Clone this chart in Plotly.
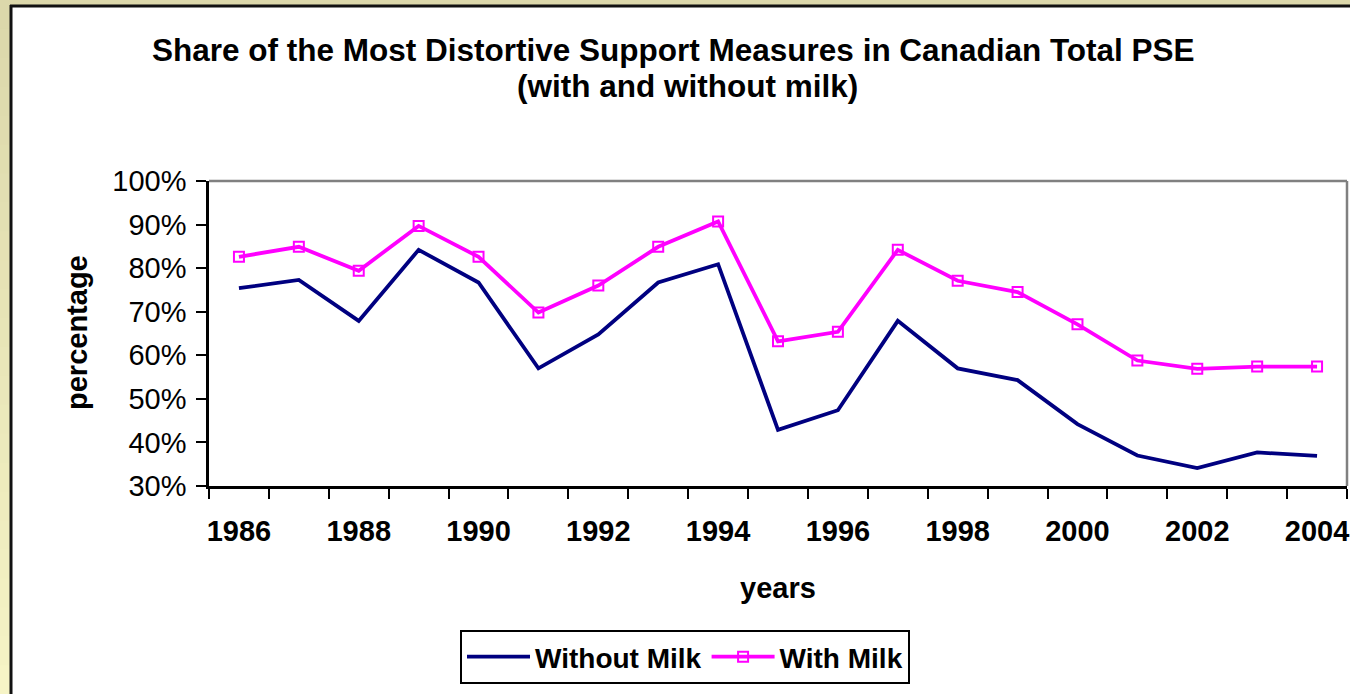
import plotly.graph_objects as go

# data
years = list(range(1986, 2005))
without_milk = [75.4, 77.3, 67.9, 84.2, 76.7, 57.0, 64.8, 76.7, 80.9, 42.9,
                47.4, 67.9, 57.0, 54.3, 44.2, 37.0, 34.1, 37.7, 36.9]
with_milk = [82.6, 84.9, 79.4, 89.7, 82.6, 69.8, 76.0, 84.9, 90.7, 63.2,
             65.4, 84.2, 77.1, 74.5, 67.1, 58.8, 56.9, 57.4, 57.4]
y_ticks = [30, 40, 50, 60, 70, 80, 90, 100]
y_tick_text = [f"{v}%" for v in y_ticks]
x_label_years = years[::2]

W, H = 1350, 694
L, R, T, B = 209, 1347, 181, 486  # plot area in pixels


def px_x(p):
    return (p - L) / (R - L)


def px_y(p):
    return (B - p) / (B - T)


FONT = "Liberation Sans, Arial, sans-serif"

fig = go.Figure()

fig.add_trace(go.Scatter(
    x=years, y=without_milk, name="Without Milk", mode="lines",
    line=dict(color="#000080", width=3.8),
))
fig.add_trace(go.Scatter(
    x=years, y=with_milk, name="With Milk", mode="lines+markers",
    line=dict(color="#FF00FF", width=3.8),
    marker=dict(symbol="square-open", size=10, color="#FF00FF",
                line=dict(width=2, color="#FF00FF")),
))

# slide frame: tan strips with a dark rule
shapes = []
n = 24
top_c = (0xDC, 0xD8, 0xAB)
bot_c = (0xF6, 0xF4, 0xC6)
for i in range(n):
    t = i / (n - 1)
    c = tuple(int(top_c[k] + (bot_c[k] - top_c[k]) * t) for k in range(3))
    y0 = i * H / n
    y1 = (i + 1) * H / n + 1
    shapes.append(dict(type="rect", xref="paper", yref="paper",
                       x0=px_x(0), x1=px_x(10), y0=px_y(y0), y1=px_y(y1),
                       fillcolor="rgb(%d,%d,%d)" % c, line=dict(width=0),
                       layer="above"))
shapes.append(dict(type="rect", xref="paper", yref="paper",
                   x0=px_x(0), x1=px_x(W), y0=px_y(0), y1=px_y(5),
                   fillcolor="rgb(220,216,171)", line=dict(width=0), layer="above"))
shapes.append(dict(type="line", xref="paper", yref="paper",
                   x0=px_x(11), x1=px_x(11), y0=px_y(5), y1=px_y(H),
                   line=dict(color="#111111", width=3), layer="above"))
shapes.append(dict(type="line", xref="paper", yref="paper",
                   x0=px_x(10), x1=px_x(W), y0=px_y(6), y1=px_y(6),
                   line=dict(color="#111111", width=3), layer="above"))
# grey top/right edges of the plot area
shapes.append(dict(type="line", xref="paper", yref="paper", x0=0, x1=1, y0=1, y1=1,
                   line=dict(color="#808080", width=2.5), layer="below"))
shapes.append(dict(type="line", xref="paper", yref="paper", x0=1, x1=1, y0=0, y1=1,
                   line=dict(color="#808080", width=2.5), layer="below"))

bold = dict(weight="bold", family=FONT)

fig.update_layout(
    width=W, height=H,
    margin=dict(l=L, r=W - R, t=T, b=H - B),
    paper_bgcolor="white", plot_bgcolor="white",
    font=dict(family=FONT, color="black"),
    xaxis=dict(
        range=[1985.5, 2004.5], tickmode="array", tickvals=x_label_years,
        ticks="", showgrid=False, zeroline=False,
        showline=True, linecolor="black", linewidth=2.5,
        tickfont=dict(size=29, **bold),
        ticklabelstandoff=17,
        minor=dict(tickvals=[y - 0.5 for y in years] + [years[-1] + 0.5],
                   ticks="outside", ticklen=10, tickwidth=2, tickcolor="black",
                   showgrid=False),
        automargin=False,
    ),
    yaxis=dict(
        range=[30, 100], tickmode="array", tickvals=y_ticks, ticktext=y_tick_text,
        ticks="outside", ticklen=10, tickwidth=2, tickcolor="black",
        showgrid=False, zeroline=False,
        showline=True, linecolor="black", linewidth=2.5,
        tickfont=dict(size=29, family=FONT),
        ticklabelstandoff=4,
        automargin=False,
    ),
    showlegend=True,
    legend=dict(
        orientation="h", x=px_x(685), xanchor="center", y=px_y(630), yanchor="top",
        bordercolor="black", borderwidth=2, bgcolor="white",
        font=dict(size=28, **bold),
        itemwidth=63,
    ),
    annotations=[
        dict(text="Share of the Most Distortive Support Measures in Canadian Total PSE",
             x=px_x(673), y=px_y(50), xanchor="center", yanchor="middle",
             xref="paper", yref="paper", showarrow=False,
             font=dict(size=31.5, **bold)),
        dict(text="(with and without milk)",
             x=px_x(687), y=px_y(86), xanchor="center", yanchor="middle",
             xref="paper", yref="paper", showarrow=False,
             font=dict(size=31.5, **bold)),
        dict(text="percentage", textangle=-90, x=px_x(77), y=px_y(333),
             xanchor="center", yanchor="middle",
             xref="paper", yref="paper", showarrow=False,
             font=dict(size=29, **bold)),
        dict(text="years", x=px_x(778), y=px_y(588),
             xanchor="center", yanchor="middle",
             xref="paper", yref="paper", showarrow=False,
             font=dict(size=29, **bold)),
    ],
    shapes=shapes,
)

fig.write_html("out.html", config={"displayModeBar": False},
               post_script="document.body.style.margin='0px';")
